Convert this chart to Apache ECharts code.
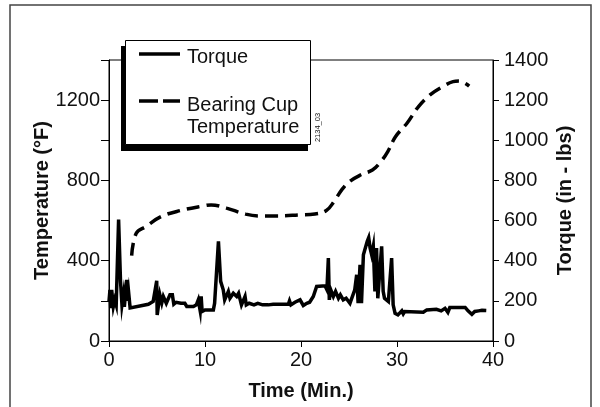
<!DOCTYPE html>
<html><head><meta charset="utf-8">
<script src="https://cdn.jsdelivr.net/npm/echarts@6/dist/echarts.min.js"></script>
<style>html,body{margin:0;padding:0;background:#fff}#c{width:600px;height:407px}</style>
</head><body><div id="c"></div>
<script>
var torqueTime = [0,0.1,0.18,0.28,0.45,0.6,0.75,1.0,1.2,1.35,1.5,1.6,1.84,1.95,2.05,2.2,4.1,4.6,4.97,5.02,5.3,5.5,5.66,5.97,6.35,6.6,6.75,7.0,7.5,7.9,8.1,8.8,9.1,9.3,9.5,9.6,9.7,10.0,10.87,11.0,11.4,11.63,11.9,12.05,12.43,12.6,12.95,13.3,13.5,13.8,14.17,14.3,14.6,15.1,15.5,16.0,16.6,17.1,17.8,18.68,18.8,18.95,19.37,19.9,20.24,20.6,20.9,21.28,21.63,22.5,22.7,22.85,22.95,23.1,23.37,23.6,23.9,24.1,24.4,24.7,25.1,25.6,25.8,25.95,26.15,26.3,26.5,26.7,26.9,27.05,27.2,27.36,27.53,27.7,27.87,28.0,28.4,28.56,28.7,29.1,29.44,29.6,29.8,30.1,30.5,30.65,30.8,32.74,33.1,34.1,34.6,35.0,35.3,35.5,37.1,37.4,37.8,38.1,38.5,38.85,39.3];
var torqueValue = [197,255,163,255,172,205,180,605,297,180,230,170,305,200,240,165,183,197,300,130,230,190,222,188,230,230,183,193,188,188,172,172,180,205,150,222,147,155,155,188,497,297,255,205,247,213,238,222,238,180,222,180,188,180,188,180,180,183,183,183,200,180,193,205,177,188,193,222,272,275,255,413,205,255,222,247,213,230,205,213,188,255,330,188,380,188,430,430,497,515,463,430,472,247,463,213,472,247,213,197,413,180,138,130,150,135,147,143,155,158,150,163,143,167,167,150,133,147,150,153,152];
var tempTime = [2.36,2.84,3.84,5.44,7.44,9.84,10.64,12.24,14.24,15.84,17.44,19.84,21.44,22.64,23.44,24.24,25.04,26.24,27.44,28.24,29.04,29.84,31.04,32.24,33.44,34.64,35.84,36.44,37.52];
var tempValue = [425,537,570,620,650,673,678,662,632,623,623,628,633,650,695,753,794,828,852,889,944,1018,1085,1168,1226,1264,1292,1295,1270];
var xTicks = [0,10,20,30,40];
var leftTickLabels = [0,400,800,1200];
var rightTickLabels = [0,200,400,600,800,1000,1200,1400];

function zip(a,b){return a.map(function(v,i){return [v,b[i]];});}
var FONT = 'Liberation Sans, Arial, sans-serif';
var chart = echarts.init(document.getElementById('c'), null, {renderer:'canvas'});
chart.setOption({
  animation:false,
  backgroundColor:'#fff',
  grid:{left:109,right:107,top:60,bottom:66,show:true,borderColor:'#000',borderWidth:1,backgroundColor:'transparent'},
  xAxis:{type:'value',min:0,max:40,interval:10,
    axisLine:{show:true,lineStyle:{color:'#000',width:1}},
    axisTick:{show:true,length:6,lineStyle:{color:'#000'}},
    splitLine:{show:false},
    axisLabel:{color:'#111',fontSize:20,fontFamily:FONT,margin:9,
      formatter:function(v){return xTicks.indexOf(v)>=0?String(v):'';}},
    name:'Time (Min.)',nameLocation:'middle',nameGap:40,nameMoveOverlap:false,
    nameTextStyle:{color:'#111',fontSize:20,fontWeight:'bold',fontFamily:FONT}},
  yAxis:[
    {type:'value',min:0,max:1400,interval:200,position:'left',
      axisLine:{show:true,lineStyle:{color:'#000',width:1}},
      axisTick:{show:true,length:8,lineStyle:{color:'#000'}},
      splitLine:{show:false},
      axisLabel:{color:'#111',fontSize:20,fontFamily:FONT,margin:9,
        formatter:function(v){return leftTickLabels.indexOf(v)>=0?String(v):'';}},
      name:'Temperature (°F)',nameLocation:'middle',nameGap:57,nameRotate:90,nameMoveOverlap:false,
      nameTextStyle:{color:'#111',fontSize:20,fontWeight:'bold',fontFamily:FONT}},
    {type:'value',min:0,max:1400,interval:200,position:'right',
      axisLine:{show:true,lineStyle:{color:'#000',width:1}},
      axisTick:{show:true,length:6,lineStyle:{color:'#000'}},
      splitLine:{show:false},
      axisLabel:{color:'#111',fontSize:20,fontFamily:FONT,margin:11,
        formatter:function(v){return rightTickLabels.indexOf(v)>=0?String(v):'';}},
      name:'Torque (in - lbs)',nameLocation:'middle',nameGap:62,nameRotate:90,nameMoveOverlap:false,
      nameTextStyle:{color:'#111',fontSize:20,fontWeight:'bold',fontFamily:FONT}}
  ],
  series:[
    {name:'Bearing Cup Temperature',type:'line',yAxisIndex:0,data:zip(tempTime,tempValue),
      showSymbol:false,smooth:0.4,lineStyle:{color:'#000',width:3.5,type:[13,7]}},
    {name:'Torque',type:'line',yAxisIndex:1,data:zip(torqueTime,torqueValue),
      showSymbol:false,lineStyle:{color:'#000',width:3.5,join:'miter'}}
  ],
  graphic:[
    {type:'rect',shape:{x:10,y:5,width:581,height:430},style:{fill:'none',stroke:'#444',lineWidth:1.5},silent:true,z:1},
    {type:'rect',shape:{x:121,y:46,width:187,height:105},style:{fill:'#000'},z:100},
    {type:'rect',shape:{x:125.5,y:40.5,width:185,height:104},style:{fill:'#fff',stroke:'#000',lineWidth:1},z:101},
    {type:'line',shape:{x1:139,y1:54,x2:180,y2:54},style:{stroke:'#000',lineWidth:3.5},z:102},
    {type:'line',shape:{x1:139,y1:101,x2:180,y2:101},style:{stroke:'#000',lineWidth:3.5,lineDash:[19,5]},z:102},
    {type:'text',x:187,y:57,style:{text:'Torque',fill:'#111',font:'20px '+FONT,textVerticalAlign:'middle',verticalAlign:'middle'},z:102},
    {type:'text',x:187,y:105,style:{text:'Bearing Cup',fill:'#111',font:'20px '+FONT,textVerticalAlign:'middle',verticalAlign:'middle'},z:102},
    {type:'text',x:187,y:127.5,style:{text:'Temperature',fill:'#111',font:'20px '+FONT,textVerticalAlign:'middle',verticalAlign:'middle'},z:102},
    {type:'text',x:318,y:127.5,rotation:Math.PI/2,style:{text:'2134_03',fill:'#111',font:'7.5px '+FONT,align:'center',verticalAlign:'middle'},z:102}
  ]
});
</script></body></html>
